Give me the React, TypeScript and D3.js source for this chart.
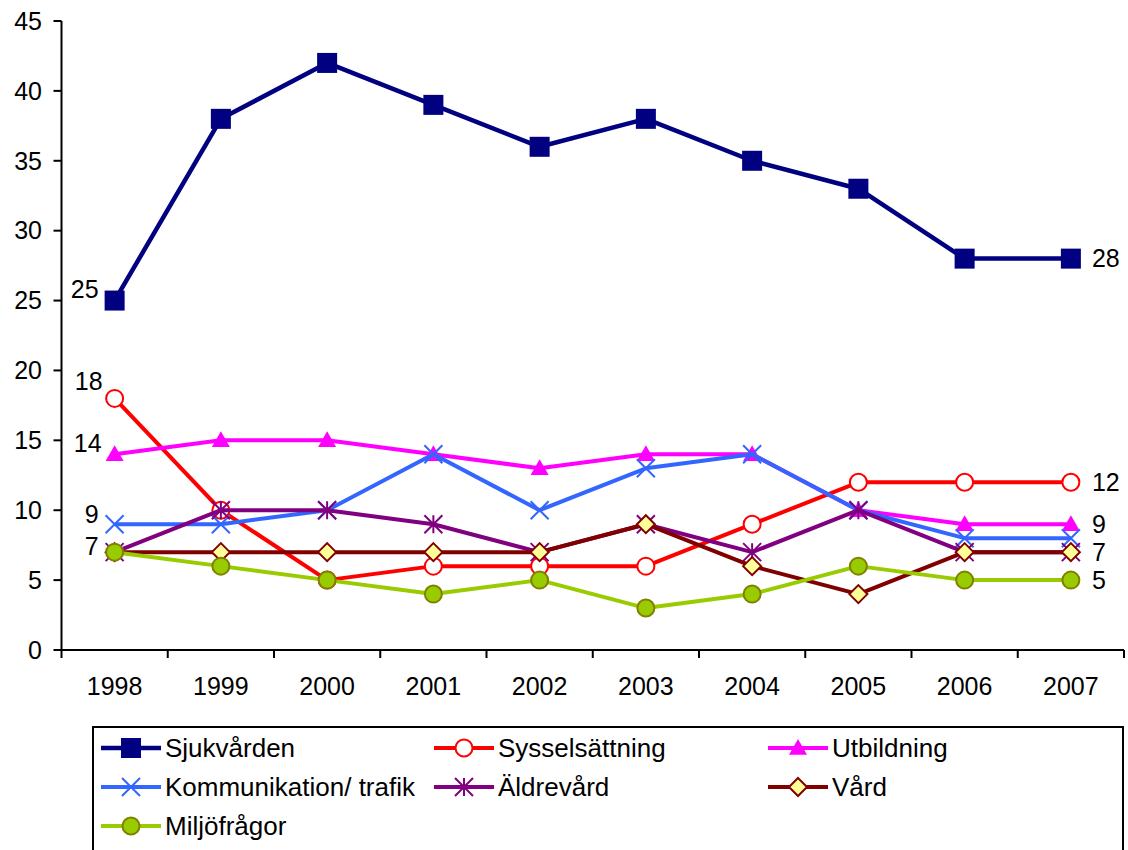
import React, { useRef, useEffect } from 'react';
import * as d3 from 'd3';

const years = ['1998', '1999', '2000', '2001', '2002', '2003', '2004', '2005', '2006', '2007'];

const sjukvarden = [25, 38, 42, 39, 36, 38, 35, 33, 28, 28];
const sysselsattning = [18, 10, 5, 6, 6, 6, 9, 12, 12, 12];
const utbildning = [14, 15, 15, 14, 13, 14, 14, 10, 9, 9];
const kommunikation = [9, 9, 10, 14, 10, 13, 14, 10, 8, 8];
const aldrevard = [7, 10, 10, 9, 7, 9, 7, 10, 7, 7];
const vard = [7, 7, 7, 7, 7, 9, 6, 4, 7, 7];
const miljo = [7, 6, 5, 4, 5, 3, 4, 6, 5, 5];

const yTicks = [0, 5, 10, 15, 20, 25, 30, 35, 40, 45];

type Series = {
  name: string;
  values: number[];
  color: string;
  marker: 'square' | 'circle' | 'triangle' | 'x' | 'star' | 'diamond';
  fill: string;
  stroke: string;
  width: number;
};

const series: Series[] = [
  { name: 'Sjukvården', values: sjukvarden, color: '#000080', marker: 'square', fill: '#000080', stroke: '#000080', width: 4.5 },
  { name: 'Sysselsättning', values: sysselsattning, color: '#FF0000', marker: 'circle', fill: '#FFFFFF', stroke: '#FF0000', width: 4 },
  { name: 'Utbildning', values: utbildning, color: '#FF00FF', marker: 'triangle', fill: '#FF00FF', stroke: '#FF00FF', width: 4 },
  { name: 'Kommunikation/ trafik', values: kommunikation, color: '#3366FF', marker: 'x', fill: 'none', stroke: '#3366FF', width: 4 },
  { name: 'Äldrevård', values: aldrevard, color: '#800080', marker: 'star', fill: 'none', stroke: '#800080', width: 4 },
  { name: 'Vård', values: vard, color: '#800000', marker: 'diamond', fill: '#FFFF99', stroke: '#800000', width: 4 },
  { name: 'Miljöfrågor', values: miljo, color: '#99CC00', marker: 'circle', fill: '#99CC00', stroke: '#808000', width: 4 },
];

// end labels (value shown at first / last year)
const leftLabels = [25, 18, 14, 9, 7];
const rightLabels = [28, 12, 9, 7, 5];
// nudges so the left labels sit clear of the markers, like the original
const leftNudgeY = [-11, -17, -11, -10, -6];
const leftNudgeX = [-16, -12, -13, -16, -16];

const App: React.FC = () => {
  const svgRef = useRef<SVGSVGElement | null>(null);

  useEffect(() => {
    if (!svgRef.current) return;
    const svg = d3.select(svgRef.current);
    svg.selectAll('*').remove();

    const left = 61.5;
    const right = 1124;
    const top = 21;
    const bottom = 650;
    const font = 'Liberation Sans, Arial, sans-serif';

    const x = d3.scaleBand().domain(years).range([left, right]);
    const y = d3.scaleLinear().domain([0, 45]).range([bottom, top]);
    const cx = (i: number) => (x(years[i]) as number) + x.bandwidth() / 2;

    // y axis
    svg.append('line').attr('x1', left).attr('x2', left).attr('y1', top).attr('y2', bottom)
      .attr('stroke', '#000').attr('stroke-width', 2);
    yTicks.forEach((t) => {
      svg.append('line').attr('x1', left - 8).attr('x2', left).attr('y1', y(t)).attr('y2', y(t))
        .attr('stroke', '#000').attr('stroke-width', 2);
      svg.append('text').attr('x', 42).attr('y', y(t)).attr('dy', '0.35em')
        .attr('text-anchor', 'end').attr('font-family', font).attr('font-size', 25).text(t);
    });

    // x axis
    svg.append('line').attr('x1', left).attr('x2', right).attr('y1', bottom).attr('y2', bottom)
      .attr('stroke', '#000').attr('stroke-width', 2);
    years.forEach((yr) => {
      const xs = x(yr) as number;
      svg.append('line').attr('x1', xs).attr('x2', xs).attr('y1', bottom).attr('y2', bottom + 8)
        .attr('stroke', '#000').attr('stroke-width', 2);
      svg.append('text').attr('x', xs + x.bandwidth() / 2).attr('y', 695)
        .attr('text-anchor', 'middle').attr('font-family', font).attr('font-size', 25).text(yr);
    });
    svg.append('line').attr('x1', right).attr('x2', right).attr('y1', bottom).attr('y2', bottom + 8)
      .attr('stroke', '#000').attr('stroke-width', 2);

    const drawMarker = (g: d3.Selection<SVGGElement, unknown, null, undefined>, s: Series, px: number, py: number) => {
      if (s.marker === 'square') {
        const h = 10;
        g.append('rect').attr('x', px - h).attr('y', py - h).attr('width', 2 * h).attr('height', 2 * h)
          .attr('fill', s.fill);
      } else if (s.marker === 'circle') {
        g.append('circle').attr('cx', px).attr('cy', py).attr('r', 8.5)
          .attr('fill', s.fill).attr('stroke', s.stroke).attr('stroke-width', 2);
      } else if (s.marker === 'triangle') {
        const h = 9;
        g.append('path').attr('d', `M${px},${py - h}L${px + h},${py + h * 0.75}L${px - h},${py + h * 0.75}Z`)
          .attr('fill', s.fill);
      } else if (s.marker === 'x') {
        const h = 9;
        g.append('path').attr('d', `M${px - h},${py - h}L${px + h},${py + h}M${px - h},${py + h}L${px + h},${py - h}`)
          .attr('stroke', s.stroke).attr('stroke-width', 2);
      } else if (s.marker === 'star') {
        const h = 9;
        g.append('path').attr('d', `M${px - h},${py - h}L${px + h},${py + h}M${px - h},${py + h}L${px + h},${py - h}M${px},${py - h}L${px},${py + h}`)
          .attr('stroke', s.stroke).attr('stroke-width', 2);
      } else if (s.marker === 'diamond') {
        const h = 9;
        g.append('path').attr('d', `M${px},${py - h}L${px + h},${py}L${px},${py + h}L${px - h},${py}Z`)
          .attr('fill', s.fill).attr('stroke', s.stroke).attr('stroke-width', 2);
      }
    };

    const line = d3.line<number>().x((_, i) => cx(i)).y((d) => y(d));

    series.forEach((s) => {
      const g = svg.append('g');
      g.append('path').attr('d', line(s.values) as string).attr('fill', 'none')
        .attr('stroke', s.color).attr('stroke-width', s.width).attr('stroke-linejoin', 'round');
      s.values.forEach((v, i) => drawMarker(g, s, cx(i), y(v)));
    });

    // end labels
    leftLabels.forEach((v, i) => {
      svg.append('text').attr('x', cx(0) + leftNudgeX[i]).attr('y', y(v) + leftNudgeY[i])
        .attr('dy', '0.35em').attr('text-anchor', 'end').attr('font-family', font).attr('font-size', 25).text(v);
    });
    rightLabels.forEach((v) => {
      svg.append('text').attr('x', cx(9) + 21).attr('y', y(v))
        .attr('dy', '0.35em').attr('text-anchor', 'start').attr('font-family', font).attr('font-size', 25).text(v);
    });

    // legend
    svg.append('rect').attr('x', 93).attr('y', 727).attr('width', 1030).attr('height', 140)
      .attr('fill', '#fff').attr('stroke', '#000').attr('stroke-width', 2);
    const colX = [101, 434, 768];
    series.forEach((s, i) => {
      const col = i % 3;
      const row = Math.floor(i / 3);
      const lx = colX[col];
      const ly = 748 + row * 39;
      const g = svg.append('g');
      g.append('line').attr('x1', lx).attr('x2', lx + 60).attr('y1', ly).attr('y2', ly)
        .attr('stroke', s.color).attr('stroke-width', s.width);
      drawMarker(g, s, lx + 30, ly);
      g.append('text').attr('x', lx + 64).attr('y', ly).attr('dy', '0.35em')
        .attr('font-family', font).attr('font-size', 26).text(s.name);
    });
  }, []);

  return (
    <svg ref={svgRef} width={1128} height={850}
      style={{ position: 'absolute', left: 0, top: 0, background: '#fff' }} />
  );
};

export default App;
